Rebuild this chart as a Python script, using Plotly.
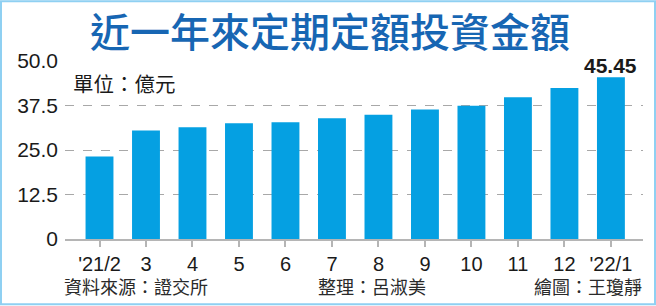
import plotly.graph_objects as go

categories = ["'21/2", "3", "4", "5", "6", "7", "8", "9", "10", "11", "12", "'22/1"]
values = [23.2, 30.5, 31.4, 32.5, 32.8, 33.9, 34.9, 36.4, 37.4, 39.8, 42.4, 45.45]
y_tickvals = [0, 12.5, 25, 37.5, 50]
y_ticktext = ["0", "12.5", "25.0", "37.5", "50.0"]

W, H = 656, 306
L, R, T, B = 65, 643, 61, 239.5

def px(x):
    return (x - L) / (R - L)

def py(y):
    return (B - y) / (B - T)

num_font = "Liberation Sans, Arial, sans-serif"
cjk_font = "Noto Sans CJK TC, Noto Sans CJK SC, sans-serif"

fig = go.Figure()
fig.add_trace(go.Bar(
    x=list(range(len(categories))), y=values,
    marker=dict(color="#05a0e2", line=dict(width=0)),
    width=0.6,
    hoverinfo="skip",
))

fig.update_layout(
    width=W, height=H,
    margin=dict(l=L, r=W - R, t=T, b=H - B),
    paper_bgcolor="white", plot_bgcolor="white",
    showlegend=False,
    title=dict(text="近一年來定期定額投資金額", x=0.503, xanchor="center",
               y=1 - 33 / H, yanchor="middle",
               font=dict(family=cjk_font, size=40, color="#1766b3", weight=500)),
    xaxis=dict(
        range=[-0.742, 11.69],
        tickvals=list(range(len(categories))), ticktext=categories,
        showline=True, linecolor="#b5b5b5", linewidth=2,
        ticks="outside", ticklen=6, tickcolor="#b5b5b5", tickwidth=2,
        ticklabelstandoff=0,
        showgrid=False, zeroline=False,
        tickfont=dict(family=num_font, size=20, color="#1a1a1a"),
    ),
    yaxis=dict(
        range=[0, 50],
        tickvals=y_tickvals, ticktext=y_ticktext,
        showgrid=True, gridcolor="#a8a8a8", griddash="dash", gridwidth=1,
        zeroline=False, showline=False, ticks="",
        ticklabelstandoff=6,
        tickfont=dict(family=num_font, size=21, color="#1a1a1a"),
    ),
    bargap=0.4,
)

annotations = [
    dict(text="單位：億元", x=px(71), y=py(83), xanchor="left", yanchor="middle",
         font=dict(family=cjk_font, size=20.5, color="#1a1a1a")),
    dict(text="45.45", x=11, xref="x", y=py(65.5), xanchor="center", yanchor="middle",
         font=dict(family=num_font, size=21, color="#1a1a1a", weight="bold")),
    dict(text="資料來源：證交所", x=px(62), y=py(287), xanchor="left", yanchor="middle",
         font=dict(family=cjk_font, size=18, color="#2a2a2a")),
    dict(text="整理：呂淑美", x=px(316), y=py(287), xanchor="left", yanchor="middle",
         font=dict(family=cjk_font, size=18, color="#2a2a2a")),
    dict(text="繪圖：王瓊靜", x=px(644), y=py(287), xanchor="right", yanchor="middle",
         font=dict(family=cjk_font, size=18, color="#2a2a2a")),
]
for a in annotations:
    a.setdefault("xref", "paper")
    a["yref"] = "paper"
    a["showarrow"] = False
    fig.add_annotation(**a)

fig.add_shape(type="rect", xref="paper", yref="paper",
              x0=px(1), x1=px(655), y0=py(305), y1=py(1),
              line=dict(color="#8fd0f2", width=2), layer="above")

fig.write_html("out.html")
